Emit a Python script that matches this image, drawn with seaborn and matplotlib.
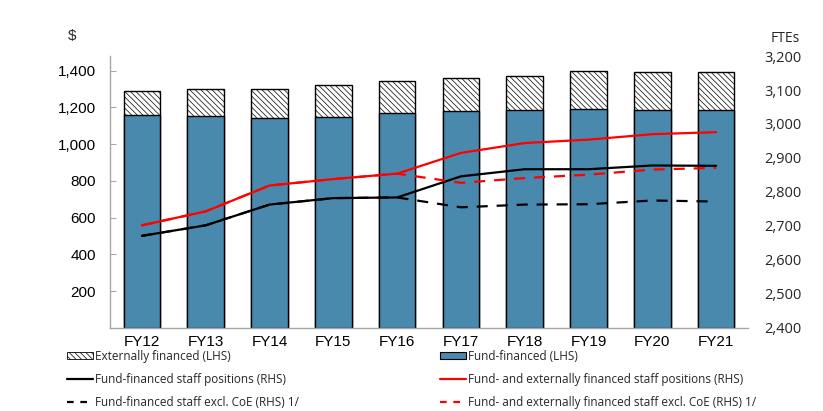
import numpy as np
import pandas as pd
import matplotlib
matplotlib.use("Agg")
import matplotlib.pyplot as plt
import matplotlib.ticker as mticker
from matplotlib.patches import Patch
from matplotlib.lines import Line2D
import seaborn as sns

# Budget ($ millions, LHS) and staffing (FTEs, RHS), FY12-FY21
years = ["FY12", "FY13", "FY14", "FY15", "FY16", "FY17", "FY18", "FY19", "FY20", "FY21"]
fund_financed = [1160, 1151, 1142, 1147, 1169, 1182, 1186, 1191, 1186, 1186]
total_budget = [1290, 1300, 1300, 1320, 1344, 1360, 1371, 1396, 1393, 1393]
staff_fund = [2671, 2702, 2763, 2782, 2784, 2846, 2867, 2867, 2878, 2877]
staff_total = [2702, 2743, 2819, 2838, 2854, 2915, 2944, 2954, 2970, 2976]
staff_fund_excl = [2671, 2702, 2763, 2782, 2784, 2755, 2763, 2764, 2775, 2772]
staff_total_excl = [2702, 2743, 2819, 2838, 2854, 2827, 2841, 2851, 2866, 2871]

left_ticks = [200, 400, 600, 800, 1000, 1200, 1400]
right_ticks = [2400, 2500, 2600, 2700, 2800, 2900, 3000, 3100, 3200]

df = pd.DataFrame({
    "year": years,
    "pos": np.arange(len(years)),
    "fund": fund_financed,
    "total": total_budget,
    "staff_fund": staff_fund,
    "staff_total": staff_total,
    "staff_fund_excl": staff_fund_excl,
    "staff_total_excl": staff_total_excl,
})

sns.set_style("white")
plt.rcParams["hatch.linewidth"] = 0.5
plt.rcParams["font.family"] = ["Liberation Sans", "DejaVu Sans"]

BAR = "#4A89AE"
GRID_GREY = "#A6A6A6"
HATCH = "\\" * 6

fig = plt.figure(figsize=(8.23, 4.11), dpi=100)
ax = fig.add_axes([110 / 823, 1 - 328 / 411, 638 / 823, 272 / 411])

# Stacked columns: full height hatched, fund-financed part solid on top
sns.barplot(data=df, x="pos", y="total", ax=ax, color="white", saturation=1,
            width=0.575, edgecolor="black", linewidth=1.0, hatch=HATCH)
sns.barplot(data=df, x="pos", y="fund", ax=ax, color=BAR, saturation=1,
            width=0.575, edgecolor="black", linewidth=1.0)
for p in ax.patches[len(years):]:
    p.set_hatch(None)

ax.set_xlim(-0.5, len(years) - 0.5)
ax.set_ylim(0, 1480)
ax.set_yticks(left_ticks)
ax.yaxis.set_major_formatter(mticker.StrMethodFormatter("{x:,.0f}"))
ax.set_xticks(df["pos"])
ax.set_xticklabels(years)
ax.set_xlabel("")
ax.set_ylabel("")
ax.set_xticks(np.arange(len(years) + 1) - 0.5, minor=True)
ax.tick_params(axis="x", which="major", length=0, labelsize=11, pad=5, colors="black")
ax.tick_params(axis="x", which="minor", direction="in", length=4, color=GRID_GREY)
ax.tick_params(axis="y", direction="in", length=4, color=GRID_GREY, labelsize=11, pad=10,
               labelcolor="black", left=True)
for s in ["top", "right"]:
    ax.spines[s].set_visible(False)
for s in ["left", "bottom"]:
    ax.spines[s].set_color(GRID_GREY)
    ax.spines[s].set_linewidth(1.0)

# Staff positions on the right axis
ax2 = ax.twinx()
line_specs = [
    ("staff_fund", "black", "-"),
    ("staff_total", "red", "-"),
    ("staff_fund_excl", "black", (0, (5, 4))),
    ("staff_total_excl", "red", (0, (5, 4))),
]
for col, c, ls in line_specs:
    sns.lineplot(data=df, x="pos", y=col, ax=ax2, color=c, linestyle=ls, linewidth=1.6)
ax2.set_ylim(2400, 3200)
ax2.set_yticks(right_ticks)
ax2.yaxis.set_major_formatter(mticker.StrMethodFormatter("{x:,.0f}"))
ax2.set_ylabel("")
ax2.set_xlabel("")
ax2.tick_params(axis="y", length=0, pad=12, labelsize=10.5)
for lab in ax2.get_yticklabels():
    lab.set_fontfamily("Open Sans")
for s in ["top", "right", "left", "bottom"]:
    ax2.spines[s].set_visible(False)
ax2.set_xlim(-0.5, len(years) - 0.5)

fig.text(72 / 823, 1 - 36 / 411, "$", ha="center", va="center", fontsize=11)
fig.text(785 / 823, 1 - 39 / 411, "FTEs", ha="center", va="center", fontsize=10,
         fontfamily="Open Sans")

# Legend in two columns beneath the chart
leg_font = {"family": "Open Sans", "size": 8.5}
dash = (0, (3, 3))
col1 = [
    (Patch(facecolor="white", edgecolor="black", hatch=HATCH, linewidth=0.6), "Externally financed (LHS)"),
    (Line2D([], [], color="black", lw=1.6), "Fund-financed staff positions (RHS)"),
    (Line2D([], [], color="black", lw=1.6, linestyle=dash), "Fund-financed staff excl. CoE (RHS) 1/"),
]
col2 = [
    (Patch(facecolor=BAR, edgecolor="black", linewidth=0.8), "Fund-financed (LHS)"),
    (Line2D([], [], color="red", lw=1.6), "Fund- and externally financed staff positions (RHS)"),
    (Line2D([], [], color="red", lw=1.6, linestyle=dash), "Fund- and externally financed staff excl. CoE (RHS) 1/"),
]
for items, x0 in [(col1, 67), (col2, 440)]:
    fig.legend([h for h, _ in items], [t for _, t in items], loc="upper left",
               bbox_to_anchor=(x0 / 823, 1 - 350 / 411), frameon=False, prop=leg_font,
               handlelength=2.2, handleheight=0.55, handletextpad=0.15,
               labelspacing=0.85, borderpad=0, borderaxespad=0)

fig.savefig("out.png", dpi=100)
